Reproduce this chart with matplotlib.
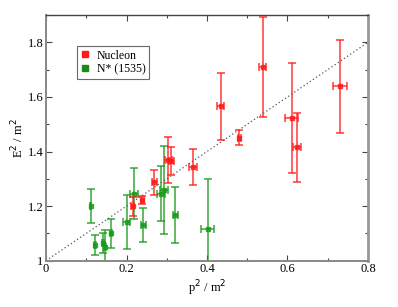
import matplotlib
matplotlib.use("Agg")
import matplotlib.pyplot as plt
from matplotlib.ticker import MultipleLocator, FuncFormatter
from matplotlib.lines import Line2D

plt.rcParams['font.family'] = ['Liberation Serif', 'DejaVu Serif']

# Nucleon data
nuc_x = [0.215, 0.239, 0.269, 0.304, 0.311, 0.366, 0.434, 0.480, 0.538, 0.610, 0.624, 0.730]
nuc_y = [1.200, 1.222, 1.287, 1.368, 1.366, 1.344, 1.565, 1.451, 1.709, 1.523, 1.415, 1.639]
nuc_yerr = [0.035, 0.014, 0.046, 0.084, 0.052, 0.067, 0.122, 0.028, 0.184, 0.203, 0.126, 0.170]
nuc_xerr = [0.003, 0.004, 0.006, 0.009, 0.006, 0.010, 0.008, 0.004, 0.009, 0.016, 0.010, 0.018]

# N*(1535) data
ns_x = [0.111, 0.121, 0.142, 0.147, 0.161, 0.200, 0.219, 0.242, 0.286, 0.293, 0.321, 0.402]
ns_y = [1.201, 1.057, 1.066, 1.052, 1.100, 1.143, 1.246, 1.131, 1.246, 1.258, 1.167, 1.115]
ns_yerr = [0.062, 0.036, 0.036, 0.060, 0.053, 0.099, 0.094, 0.062, 0.101, 0.161, 0.102, 0.183]
ns_xerr = [0.002, 0.003, 0.003, 0.003, 0.003, 0.009, 0.010, 0.007, 0.009, 0.010, 0.006, 0.016]

line_x = [0.0, 0.8]
line_y = [1.0, 1.8]

fig = plt.figure(figsize=(3.98, 3.07), dpi=100)
ax = fig.add_axes([0.1156, 0.1508, 0.8090, 0.8002])

ax.plot(line_x, line_y, linestyle=(0, (1, 2)), color='#555555', lw=0.9, zorder=1)

ax.errorbar(ns_x, ns_y, yerr=ns_yerr, xerr=ns_xerr, fmt='s', color='#1a9a1a',
            ms=2.6, elinewidth=1.2, capsize=3, capthick=1.2, alpha=0.8,
            label='N* (1535)', zorder=2)
ax.errorbar(nuc_x, nuc_y, yerr=nuc_yerr, xerr=nuc_xerr, fmt='s', color='#ff1a1a',
            ms=2.6, elinewidth=1.2, capsize=3, capthick=1.2, alpha=0.8,
            label='Nucleon', zorder=3)

ax.set_xlim(0, 0.8)
ax.set_ylim(1.0, 1.9)
ax.xaxis.set_major_locator(MultipleLocator(0.2))
ax.xaxis.set_minor_locator(MultipleLocator(0.1))
ax.yaxis.set_major_locator(MultipleLocator(0.2))
ax.yaxis.set_minor_locator(MultipleLocator(0.1))
fmt = FuncFormatter(lambda v, p: '%g' % round(v, 2))
ax.xaxis.set_major_formatter(fmt)
ax.yaxis.set_major_formatter(fmt)

ax.tick_params(which='both', direction='in', top=True, right=True, labelsize=9,
               colors='#444444', labelcolor='black')
ax.tick_params(which='major', length=4, width=0.8, pad=2)
ax.tick_params(which='minor', length=2, width=0.8)

for side in ['left', 'bottom']:
    ax.spines[side].set_color('#888888')
    ax.spines[side].set_linewidth(1.4)
ax.spines['right'].set_color('#999999')
ax.spines['right'].set_linewidth(2.0)
ax.spines['top'].set_color('#444444')
ax.spines['top'].set_linewidth(1.0)

ax.set_xlabel('p$^2$ / m$^2$', fontsize=9, labelpad=2)
ax.set_ylabel('E$^2$ / m$^2$', fontsize=9, labelpad=1)

hs = [Line2D([], [], marker='s', ls='none', color='#ff1a1a', ms=4),
      Line2D([], [], marker='s', ls='none', color='#1a8a1a', ms=4)]
leg = ax.legend(hs, ['Nucleon', 'N* (1535)'], loc='upper left',
                bbox_to_anchor=(0.096, 0.874), borderaxespad=0, fontsize=8.5,
                frameon=True, fancybox=False, handlelength=0.8, handletextpad=0.6,
                borderpad=0.3, labelspacing=0.15)
leg.get_frame().set_edgecolor('#444444')
leg.get_frame().set_linewidth(0.8)

fig.savefig('out.png', dpi=100)
